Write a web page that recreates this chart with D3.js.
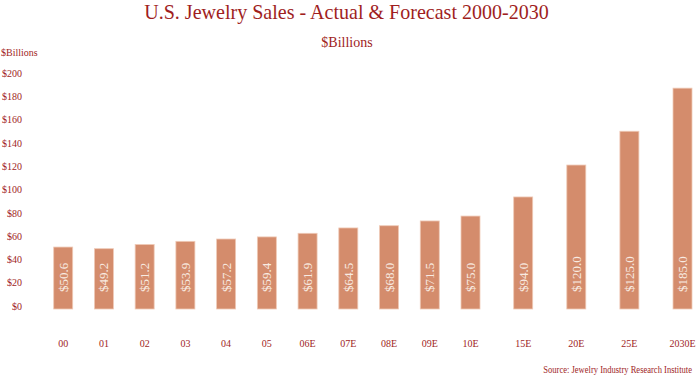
<!DOCTYPE html>
<html><head><meta charset="utf-8">
<script src="https://cdn.jsdelivr.net/npm/d3@7"></script>
<style>body{margin:0;background:#fff}svg{display:block}</style>
</head><body><svg id="c" width="700" height="378"></svg>
<script>
const nearCats = ["00","01","02","03","04","05","06E","07E","08E","09E","10E"];
const farCats = ["15E","20E","25E","2030E"];
const categories = nearCats.concat(farCats);
const sales = [50.6, 49.2, 52.8, 55.5, 57.5, 59.3, 62.4, 67.0, 68.9, 73.0, 77.2, 93.6, 121.0, 150.0, 187.0];
const valueLabels = ["$50.6","$49.2","$51.2","$53.9","$57.2","$59.4","$61.9","$64.5","$68.0","$71.5","$75.0","$94.0","$120.0","$125.0","$185.0"];
const yTicks = [0,20,40,60,80,100,120,140,160,180,200];

const FONT = "'Liberation Serif', 'DejaVu Serif', serif";
const red = "#a01e1e", barFill = "#d48c6c", barEdge = "#efcab7";
const svg = d3.select("#c").attr("font-family", FONT);

const y = d3.scaleLinear().domain([0,200]).range([306,73]);
const xNear = d3.scalePoint().domain(nearCats).range([63.2,470.5]);
const xFar = d3.scalePoint().domain(farCats).range([523.2,682.5]);
const x = c => nearCats.includes(c) ? xNear(c) : xFar(c);
const bw = 19;

function fitText(sel, ax, ay, width, anchor) {
  const len = sel.node().getComputedTextLength();
  const s = Math.min(1, width / len);
  sel.attr("text-anchor", anchor).attr("transform", `translate(${ax},${ay}) scale(${s},1)`);
}

// title
const title = svg.append("text").attr("font-family",FONT).attr("font-size",21).attr("fill",red)
  .text("U.S. Jewelry Sales - Actual & Forecast 2000-2030");
fitText(title, 346.5, 19, 405, "middle");
svg.append("text").attr("x",347).attr("y",46.5).attr("text-anchor","middle")
  .attr("font-family",FONT).attr("font-size",14).attr("fill",red).text("$Billions");
svg.append("text").attr("x",1).attr("y",56).attr("font-family",FONT).attr("font-size",10).attr("fill",red).text("$Billions");

// y axis (labels only)
const yAxis = d3.axisLeft(y).tickValues(yTicks).tickFormat(d => "$" + d).tickSize(0).tickPadding(0);
const gy = svg.append("g").attr("transform","translate(22,0)").call(yAxis)
  .attr("font-family",FONT);
gy.select(".domain").remove();
gy.selectAll("text").attr("font-size",10).attr("fill",red).attr("font-family",FONT);

// x axis labels
const data = categories.map((c,i)=>({c, v:sales[i], lab:valueLabels[i]}));
svg.append("g").selectAll("text").data(data).join("text")
  .attr("x",d=>x(d.c)).attr("y",347).attr("text-anchor","middle")
  .attr("font-family",FONT).attr("font-size",10).attr("fill",red).text(d=>d.c);

// bars
svg.append("g").selectAll("rect").data(data).join("rect")
  .attr("x",d=>x(d.c)-bw/2).attr("y",d=>y(d.v))
  .attr("width",bw).attr("height",d=>y(0)-y(d.v)+3)
  .attr("fill",barFill).attr("stroke",barEdge).attr("stroke-width",0.8);

// value labels rotated
svg.append("g").selectAll("text").data(data).join("text")
  .attr("transform",d=>`translate(${x(d.c)+4.5},${y(0)-14}) rotate(-90)`)
  .attr("font-family",FONT).attr("font-size",13).attr("fill","#f8ebe2").text(d=>d.lab);

// source
const src = svg.append("text").attr("font-family",FONT).attr("font-size",9.5).attr("fill",red)
  .text("Source: Jewelry Industry Research Institute");
fitText(src, 692, 372.5, 149, "end");
</script></body></html>
